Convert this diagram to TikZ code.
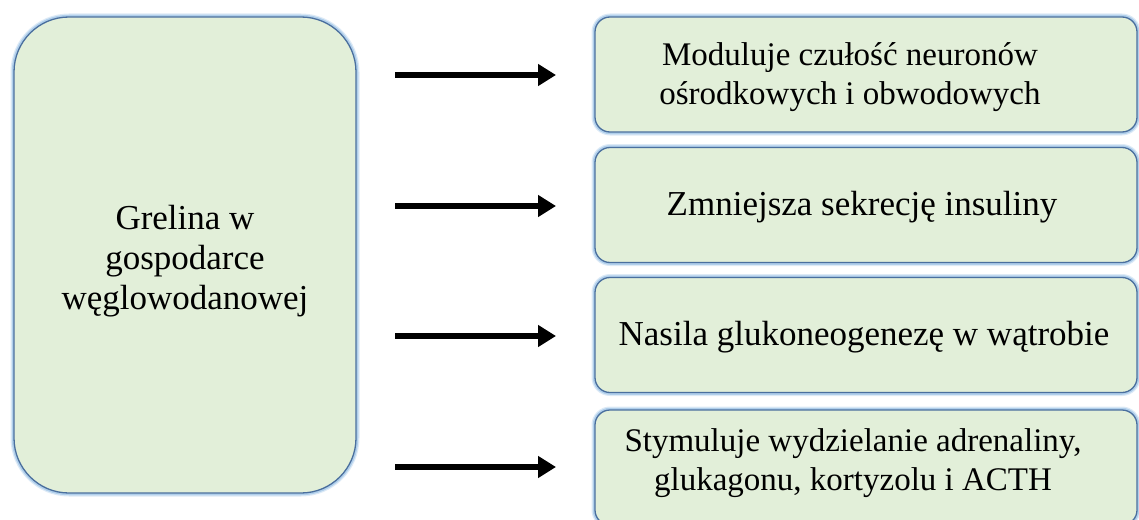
\documentclass[tikz,border=0pt]{standalone}
\usepackage{fontspec}
\setmainfont{Liberation Serif}
\usetikzlibrary{arrows.meta}
\definecolor{boxfill}{HTML}{E2EFD9}
\definecolor{boxedge}{HTML}{4A6F9E}
\definecolor{glowc}{HTML}{9DC3E6}
\tikzset{
  glowbox/.style={draw=boxedge, fill=boxfill, line width=1.3pt,
    preaction={draw=glowc, line width=7pt, opacity=0.35},
    preaction={draw=glowc, line width=4.5pt, opacity=0.7},
    inner sep=0pt},
  bigbox/.style={glowbox, rounded corners=55pt, minimum width=342pt, minimum height=476pt},
  smallbox/.style={glowbox, rounded corners=15pt, minimum width=542pt, minimum height=115pt},
  txt/.style={align=center, font=\fontsize{35}{40}\selectfont, inner sep=0pt},
  txts/.style={align=center, font=\fontsize{33}{39}\selectfont, inner sep=0pt},
  arr/.style={line width=6.5pt, -{Triangle[length=18pt,width=21pt]}}
}
\begin{document}
\begin{tikzpicture}[x=1pt,y=-1pt]
\useasboundingbox (0,0) rectangle (1139,519);
\clip (0,0) rectangle (1139,519);
\node[bigbox] (left) at (185,255) {};
\node[smallbox] (b1) at (866,74.5) {};
\node[smallbox] (b2) at (866,205) {};
\node[smallbox] (b3) at (866,335) {};
\node[smallbox] (b4) at (866,467.5) {};
\node[txt] (tl) at (185,261) {Grelina w\\gospodarce\\węglowodanowej};
\node[txts] (t1) at (850,77) {Moduluje czułość neuronów\\ośrodkowych i obwodowych};
\node[txt] (t2) at (862,207) {Zmniejsza sekrecję insuliny};
\node[txt] (t3) at (864,337) {Nasila glukoneogenezę w wątrobie};
\node[txts] (t4) at (853,463) {Stymuluje wydzielanie adrenaliny,\\glukagonu, kortyzolu i ACTH};
\foreach \i/\y in {1/75,2/206,3/336,4/467}{
  \coordinate (s\i) at (395,\y);
  \coordinate (e\i) at (556,\y);
  \draw[arr] (s\i) -- (e\i);
}
\end{tikzpicture}
\end{document}
